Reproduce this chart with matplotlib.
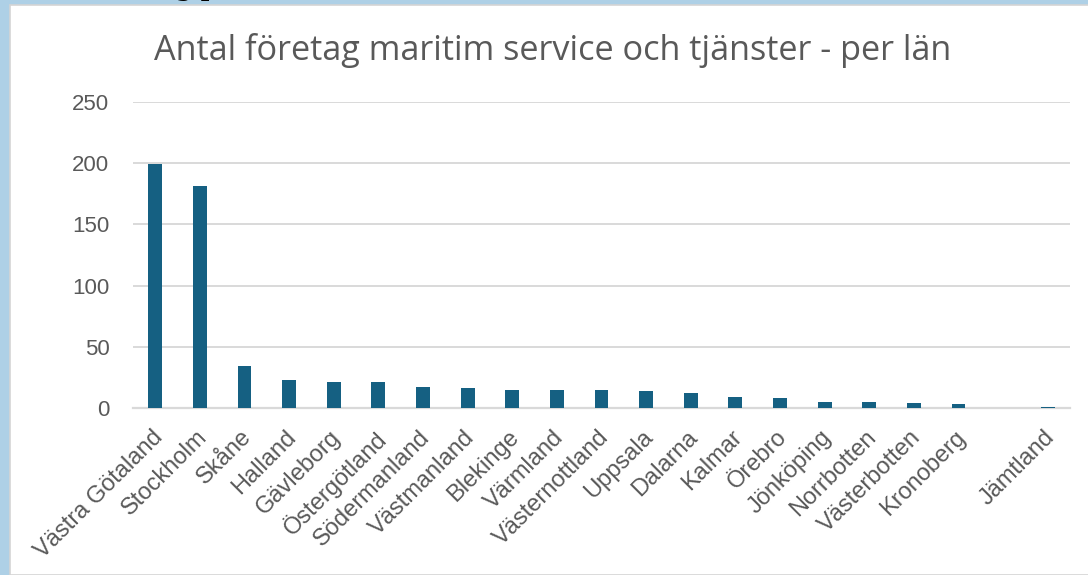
import matplotlib.pyplot as plt
import matplotlib.transforms as mtransforms
from matplotlib.patches import Rectangle

# data
LAN = ['Västra Götaland', 'Stockholm', 'Skåne', 'Halland', 'Gävleborg',
       'Östergötland', 'Södermanland', 'Västmanland', 'Blekinge', 'Värmland',
       'Västernottland', 'Uppsala', 'Dalarna', 'Kalmar', 'Örebro',
       'Jönköping', 'Norrbotten', 'Västerbotten', 'Kronoberg', '', 'Jämtland']
ANTAL = [199, 181, 34, 23, 21, 21, 17, 16, 15, 15, 15, 14, 12, 9, 8,
         5, 5, 4, 3, 0, 1]
TITLE = 'Antal företag maritim service och tjänster - per län'
Y_TICKS = [0, 50, 100, 150, 200, 250]

BAR_COLOR = '#156082'
TEXT_COLOR = '#595959'
GRID_COLOR = '#d9d9d9'

W, H = 1088, 575
fig = plt.figure(figsize=(W / 100, H / 100), dpi=100, facecolor='#aed0e6')

# cut-off heading above the card
fig.text(176 / W, 1 + 4 / H, 'g p', family='DejaVu Serif', weight='bold',
         fontsize=17, color='black', va='baseline', ha='left', zorder=-2)

# white chart card
card = Rectangle((10 / W, 0), 1, 1 - 5 / H, transform=fig.transFigure,
                 facecolor='white', edgecolor='#d4d4d4', linewidth=1.2, zorder=-1)
fig.patches.append(card)

ax = fig.add_axes([133 / W, 1 - 408 / H, 937 / W, 306 / H])
ax.set_facecolor('none')
x = range(len(LAN))
ax.bar(x, ANTAL, width=0.31, color=BAR_COLOR, zorder=3)

ax.set_xlim(-0.5, len(LAN) - 0.5)
ax.set_ylim(0, 250)
ax.set_yticks(Y_TICKS)
ax.yaxis.grid(True, color=GRID_COLOR, linewidth=1.4, zorder=0)
ax.set_axisbelow(True)
for side in ['top', 'right', 'left']:
    ax.spines[side].set_visible(False)
ax.spines['bottom'].set_color(GRID_COLOR)
ax.spines['bottom'].set_linewidth(1.6)

ax.tick_params(axis='y', length=0, pad=17, labelsize=16, labelcolor=TEXT_COLOR)
ax.tick_params(axis='x', length=0, pad=13, labelsize=17, labelcolor=TEXT_COLOR)
ax.set_xticks(list(x))
ax.set_xticklabels(LAN, rotation=45, ha='right', rotation_mode='anchor')
shift = mtransforms.ScaledTranslation(-4 / 100, 0, fig.dpi_scale_trans)
for lbl in ax.get_xticklabels():
    lbl.set_transform(lbl.get_transform() + shift)
for lbl in ax.get_xticklabels() + ax.get_yticklabels():
    lbl.set_family('Liberation Sans')

fig.text(553 / W, 1 - 60 / H, TITLE, ha='center', va='baseline',
         fontsize=24.7, color=TEXT_COLOR, family='Open Sans')

fig.savefig('out.png', dpi=100, facecolor=fig.get_facecolor())
